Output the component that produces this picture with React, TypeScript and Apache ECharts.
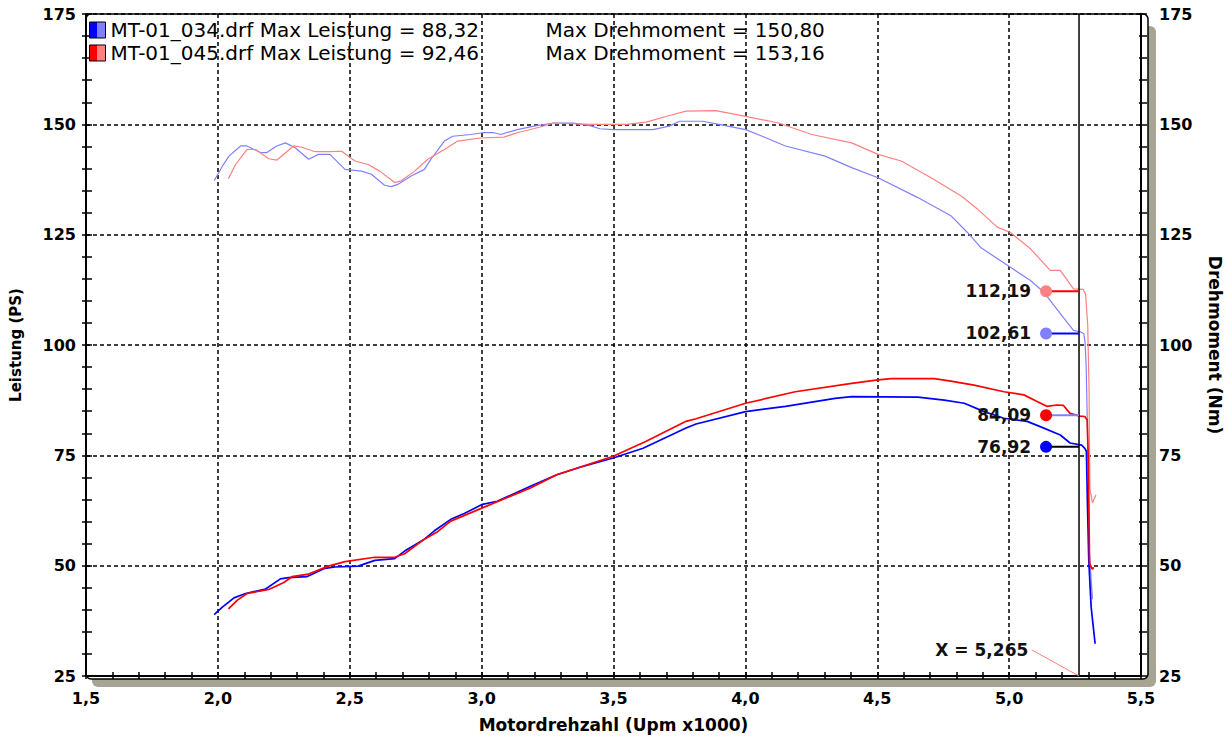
import React, { useEffect, useRef } from "react";
import * as echarts from "echarts";

// ---------- data ----------
const FILES = ["MT-01_034.drf", "MT-01_045.drf"];
const MAX_POWER = [88.32, 92.46];
const MAX_TORQUE = [150.8, 153.16];

const X_TICKS = { min: 1.5, max: 5.5, step: 0.5 };
const Y_TICKS = { min: 25, max: 175, step: 25 };

// torque (Nm) file 034
const TORQUE_034: number[][] = [
  [1.986, 137.2], [2.017, 140.5], [2.042, 142.8], [2.086, 145.1], [2.11, 145.1], [2.162, 143.6],
  [2.186, 143.6], [2.223, 145.1], [2.256, 145.8], [2.293, 144.7], [2.344, 142.1], [2.381, 143.2],
  [2.425, 143.2], [2.482, 139.8], [2.545, 139.4], [2.582, 138.7], [2.632, 136.2], [2.657, 135.9],
  [2.683, 136.4], [2.733, 138.3], [2.783, 139.8], [2.808, 142.1], [2.859, 146.2], [2.89, 147.3],
  [2.959, 147.7], [3.003, 148.1], [3.047, 148.1], [3.072, 147.7], [3.135, 148.8], [3.198, 149.6],
  [3.273, 150.3], [3.348, 150.3], [3.411, 149.7], [3.448, 149.0], [3.499, 148.8], [3.649, 148.8],
  [3.712, 149.6], [3.75, 150.7], [3.838, 150.7], [3.9, 150.0], [4.001, 148.8], [4.064, 147.3],
  [4.152, 145.1], [4.302, 142.8], [4.403, 140.2], [4.503, 137.9], [4.654, 133.4], [4.779, 129.3],
  [4.842, 125.5], [4.892, 122.1], [5.005, 117.6], [5.081, 114.6], [5.131, 112.0], [5.206, 106.2],
  [5.244, 103.3], [5.269, 103.0], [5.283, 102.6], [5.288, 100.5], [5.292, 95.4], [5.296, 84.2],
  [5.3, 70.0], [5.304, 53.3], [5.316, 42.4],
];
// torque (Nm) file 045
const TORQUE_045: number[][] = [
  [2.04, 137.7], [2.067, 140.9], [2.111, 144.3], [2.143, 144.3], [2.193, 142.2], [2.224, 141.9],
  [2.287, 145.1], [2.318, 144.8], [2.369, 143.8], [2.419, 143.8], [2.469, 143.9], [2.52, 141.7],
  [2.57, 140.9], [2.614, 139.4], [2.67, 136.8], [2.695, 137.2], [2.746, 139.4], [2.796, 142.1],
  [2.859, 144.3], [2.909, 146.2], [2.996, 146.9], [3.084, 147.1], [3.135, 148.1], [3.222, 149.4],
  [3.273, 150.3], [3.411, 150.0], [3.549, 150.0], [3.624, 150.5], [3.712, 152.0], [3.775, 153.0],
  [3.888, 153.1], [4.001, 151.8], [4.126, 150.3], [4.252, 147.7], [4.403, 145.8], [4.503, 143.2],
  [4.591, 141.7], [4.704, 137.9], [4.817, 133.8], [4.88, 130.8], [4.955, 126.7], [5.005, 125.5],
  [5.081, 121.8], [5.156, 116.9], [5.194, 116.9], [5.244, 112.7], [5.281, 112.6], [5.29, 111.5],
  [5.298, 104.5], [5.303, 90.0], [5.306, 67.6], [5.316, 64.2], [5.329, 66.0],
];
// power (PS) file 034
const POWER_034: number[][] = [
  [1.986, 38.9], [2.017, 40.6], [2.061, 42.7], [2.105, 43.7], [2.181, 44.7], [2.237, 47.0],
  [2.268, 47.3], [2.337, 47.5], [2.406, 49.4], [2.444, 49.7], [2.532, 49.9], [2.595, 51.2],
  [2.67, 51.6], [2.708, 53.3], [2.783, 56.0], [2.821, 57.9], [2.883, 60.5], [2.934, 61.8],
  [3.003, 63.9], [3.059, 64.6], [3.185, 68.0], [3.285, 70.6], [3.373, 72.3], [3.499, 74.4],
  [3.612, 76.6], [3.775, 81.2], [3.813, 82.1], [4.001, 84.9], [4.152, 86.1], [4.34, 87.9],
  [4.403, 88.3], [4.654, 88.2], [4.754, 87.5], [4.83, 86.8], [4.905, 84.9], [4.98, 83.4],
  [5.068, 82.7], [5.118, 81.5], [5.194, 79.6], [5.231, 77.8], [5.275, 77.3], [5.287, 76.6],
  [5.293, 75.9], [5.297, 63.9], [5.302, 51.2], [5.311, 40.6], [5.326, 32.3],
];
// power (PS) file 045
const POWER_045: number[][] = [
  [2.04, 40.2], [2.074, 42.2], [2.111, 43.7], [2.193, 44.6], [2.25, 46.2], [2.281, 47.5],
  [2.344, 48.1], [2.419, 49.9], [2.482, 50.9], [2.595, 51.9], [2.67, 51.9], [2.708, 52.7],
  [2.783, 56.0], [2.833, 57.7], [2.883, 60.1], [3.003, 63.1], [3.185, 67.6], [3.285, 70.6],
  [3.499, 74.8], [3.624, 78.2], [3.775, 82.7], [3.813, 83.3], [4.001, 86.8], [4.189, 89.4],
  [4.403, 91.3], [4.503, 92.1], [4.553, 92.4], [4.716, 92.4], [4.779, 91.8], [4.867, 90.9],
  [4.98, 89.4], [5.056, 88.7], [5.106, 87.2], [5.143, 86.1], [5.181, 86.4], [5.206, 86.3],
  [5.231, 84.5], [5.269, 83.9], [5.287, 83.8], [5.296, 83.0], [5.3, 74.4], [5.305, 50.5],
  [5.315, 49.2], [5.321, 49.6],
];

// cursor readout
const CURSOR_X = 5.265;
const READOUT_X = 5.14;
const READOUT_VALUES = [112.19, 102.61, 84.09, 76.92];
const READOUT_AXIS = [1, 1, 0, 0];
const CURSOR_LABEL_ANCHOR = [5.086, 30.9];

// ---------- styles ----------
const FONT = "DejaVu Sans";
const MARKER_COLORS = ["#ff8080", "#8080ff", "#ff0000", "#0000ff"];
const CONNECTOR_COLORS = ["#ff0000", "#0000ff", "#8080ff", "#000000"];
const GRID = { left: 86, right: 83, top: 14, bottom: 59 };

const fmt = (v: number, d: number) => v.toFixed(d).replace(".", ",");

const legendGradient = (dark: string, light: string) => ({
  type: "linear",
  x: 0,
  y: 0,
  x2: 1,
  y2: 0,
  colorStops: [
    { offset: 0, color: dark },
    { offset: 0.5, color: dark },
    { offset: 0.5, color: light },
    { offset: 1, color: light },
  ],
});

function buildOption(): any {
  const W = 1231;
  const H = 738;
  const plotW = W - GRID.left - GRID.right;
  const plotH = H - GRID.top - GRID.bottom;

  const tickAxisBase = {
    type: "value",
    min: Y_TICKS.min,
    max: Y_TICKS.max,
    interval: Y_TICKS.step,
  };

  const readoutSeries = READOUT_VALUES.map((v, i) => ({
    type: "line",
    name: "readout" + i,
    xAxisIndex: 0,
    yAxisIndex: READOUT_AXIS[i],
    z: 6,
    lineStyle: { color: CONNECTOR_COLORS[i], width: 2 },
    itemStyle: { color: MARKER_COLORS[i] },
    silent: true,
    data: [
      {
        value: [READOUT_X, v],
        symbol: "circle",
        symbolSize: 12,
        itemStyle: { color: MARKER_COLORS[i], borderWidth: 0 },
        label: {
          show: true,
          position: "left",
          distance: 9,
          formatter: fmt(v, 2),
          fontFamily: FONT,
          fontWeight: "bold",
          fontSize: 17,
          color: "#111",
        },
      },
      { value: [CURSOR_X, v], symbol: "none" },
    ],
  }));

  return {
    animation: false,
    grid: { ...GRID, containLabel: false },
    legend: {
      left: 89,
      top: 20,
      padding: 0,
      orient: "vertical",
      itemWidth: 16,
      itemHeight: 16,
      itemGap: 3,
      selectedMode: false,
      icon: "rect",
      data: [
        { name: FILES[0], itemStyle: { color: legendGradient("#0000ff", "#8080ff"), borderColor: "#000", borderWidth: 1 } },
        { name: FILES[1], itemStyle: { color: legendGradient("#ff0000", "#ff8080"), borderColor: "#000", borderWidth: 1 } },
      ],
      formatter: (name: string) => {
        const i = FILES.indexOf(name);
        return `{a|${name} Max Leistung = ${fmt(MAX_POWER[i], 2)}}{b|Max Drehmoment = ${fmt(MAX_TORQUE[i], 2)}}`;
      },
      textStyle: {
        fontFamily: FONT,
        fontSize: 20,
        color: "#000",
        lineHeight: 18,
        rich: {
          a: { width: 435, fontFamily: FONT, fontSize: 20, color: "#000", lineHeight: 18 },
          b: { fontFamily: FONT, fontSize: 20, color: "#000", lineHeight: 18 },
        },
      },
    },
    graphic: [
      {
        type: "rect",
        z: -2,
        silent: true,
        shape: { x: GRID.left + 6, y: GRID.top + 12, width: plotW + 2, height: plotH - 4, r: 6 },
        style: { fill: "#a8a494" },
      },
      {
        type: "rect",
        z: -1,
        silent: true,
        shape: { x: GRID.left, y: GRID.top, width: plotW, height: plotH, r: 5 },
        style: { fill: "#ffffff", stroke: "#000", lineWidth: 1.5 },
      },
    ],
    xAxis: [
      {
        type: "value",
        min: X_TICKS.min,
        max: X_TICKS.max,
        interval: X_TICKS.step,
        position: "bottom",
        name: "Motordrehzahl (Upm x1000)",
        nameLocation: "middle",
        nameGap: 40,
        nameTextStyle: { fontFamily: FONT, fontWeight: "bold", fontSize: 17, color: "#000" },
        axisLine: { show: true, lineStyle: { color: "#000", width: 2 } },
        axisTick: { show: true, inside: true, length: 4, lineStyle: { color: "#000", width: 1.5 } },
        minorTick: { show: true, splitNumber: 5, length: 4, lineStyle: { color: "#000", width: 1.5 } },
        axisLabel: {
          show: true,
          margin: 14,
          fontFamily: FONT,
          fontWeight: "bold",
          fontSize: 16,
          color: "#000",
          showMinLabel: true,
          showMaxLabel: true,
          formatter: (v: number) => fmt(v, 1),
        },
        splitLine: { show: true, lineStyle: { color: "#000", width: 1.5, type: [4, 3] } },
      },
      {
        type: "value",
        min: X_TICKS.min,
        max: X_TICKS.max,
        interval: X_TICKS.step,
        position: "bottom",
        axisLine: { show: false },
        axisTick: { show: true, inside: false, length: 3, lineStyle: { color: "#000", width: 1.5 } },
        minorTick: { show: true, splitNumber: 5, length: 3, lineStyle: { color: "#000", width: 1.5 } },
        axisLabel: { show: false },
        splitLine: { show: false },
      },
    ],
    yAxis: [
      {
        ...tickAxisBase,
        position: "left",
        name: "Leistung (PS)",
        nameLocation: "middle",
        nameGap: 63,
        nameTextStyle: { fontFamily: FONT, fontWeight: "bold", fontSize: 15, color: "#000" },
        axisLine: { show: true, lineStyle: { color: "#000", width: 2 } },
        axisTick: { show: true, inside: false, length: 4, lineStyle: { color: "#000", width: 1.5 } },
        minorTick: { show: true, splitNumber: 5, length: 4, lineStyle: { color: "#000", width: 1.5 } },
        axisLabel: {
          margin: 10,
          fontFamily: FONT,
          fontWeight: "bold",
          fontSize: 16,
          color: "#000",
          showMinLabel: true,
          showMaxLabel: true,
        },
        splitLine: { show: true, lineStyle: { color: "#000", width: 1.5, type: [4, 3] } },
      },
      {
        ...tickAxisBase,
        position: "right",
        name: "Drehmoment (Nm)",
        nameLocation: "middle",
        nameGap: 65,
        nameRotate: -90,
        nameTextStyle: { fontFamily: FONT, fontWeight: "bold", fontSize: 17, color: "#000" },
        axisLine: { show: true, lineStyle: { color: "#000", width: 2 } },
        axisTick: { show: true, inside: false, length: 6, lineStyle: { color: "#000", width: 1.5 } },
        minorTick: { show: true, splitNumber: 5, length: 6, lineStyle: { color: "#000", width: 1.5 } },
        axisLabel: {
          margin: 18,
          fontFamily: FONT,
          fontWeight: "bold",
          fontSize: 16,
          color: "#000",
          showMinLabel: true,
          showMaxLabel: true,
        },
        splitLine: { show: false },
      },
      {
        ...tickAxisBase,
        position: "left",
        axisLine: { show: false },
        axisTick: { show: true, inside: true, length: 6, lineStyle: { color: "#000", width: 1.5 } },
        minorTick: { show: true, splitNumber: 5, length: 6, lineStyle: { color: "#000", width: 1.5 } },
        axisLabel: { show: false },
        splitLine: { show: false },
      },
      {
        ...tickAxisBase,
        position: "right",
        axisLine: { show: false },
        axisTick: { show: true, inside: true, length: 2, lineStyle: { color: "#000", width: 1.5 } },
        minorTick: { show: true, splitNumber: 5, length: 2, lineStyle: { color: "#000", width: 1.5 } },
        axisLabel: { show: false },
        splitLine: { show: false },
      },
    ],
    series: [
      {
        type: "line",
        name: FILES[0],
        xAxisIndex: 0,
        yAxisIndex: 1,
        symbol: "none",
        z: 3,
        color: "#8080ff",
        lineStyle: { color: "#8080ff", width: 1.2 },
        data: TORQUE_034,
      },
      {
        type: "line",
        name: FILES[1],
        xAxisIndex: 0,
        yAxisIndex: 1,
        symbol: "none",
        z: 3,
        color: "#ff8080",
        lineStyle: { color: "#ff8080", width: 1.2 },
        data: TORQUE_045,
      },
      {
        type: "line",
        name: FILES[0] + " Leistung",
        xAxisIndex: 0,
        yAxisIndex: 0,
        symbol: "none",
        z: 4,
        color: "#0000ff",
        lineStyle: { color: "#0000ff", width: 1.7 },
        data: POWER_034,
      },
      {
        type: "line",
        name: FILES[1] + " Leistung",
        xAxisIndex: 0,
        yAxisIndex: 0,
        symbol: "none",
        z: 4,
        color: "#ff0000",
        lineStyle: { color: "#ff0000", width: 1.7 },
        data: POWER_045,
      },
      {
        type: "line",
        name: "cursor",
        xAxisIndex: 0,
        yAxisIndex: 0,
        symbol: "none",
        z: 5,
        silent: true,
        lineStyle: { color: "#000", width: 1.5 },
        data: [
          [CURSOR_X, Y_TICKS.min],
          [CURSOR_X, Y_TICKS.max],
        ],
      },
      {
        type: "line",
        name: "cursorLabel",
        xAxisIndex: 0,
        yAxisIndex: 0,
        z: 5,
        silent: true,
        lineStyle: { color: "#ff8080", width: 1 },
        data: [
          {
            value: CURSOR_LABEL_ANCHOR,
            symbol: "circle",
            symbolSize: 1,
            itemStyle: { color: "rgba(0,0,0,0)" },
            label: {
              show: true,
              position: "left",
              distance: 3,
              formatter: "X = " + fmt(CURSOR_X, 3),
              fontFamily: FONT,
              fontWeight: "bold",
              fontSize: 17,
              color: "#111",
            },
          },
          { value: [CURSOR_X, Y_TICKS.min], symbol: "none" },
        ],
      },
      ...readoutSeries,
    ],
  };
}

export default function App() {
  const ref = useRef<HTMLDivElement>(null);
  useEffect(() => {
    if (!ref.current) return;
    const chart = echarts.init(ref.current, null, { renderer: "svg" });
    chart.setOption(buildOption());
    return () => chart.dispose();
  }, []);
  return (
    <div
      ref={ref}
      style={{ position: "fixed", left: 0, top: 0, width: 1231, height: 738, background: "#fff" }}
    />
  );
}
